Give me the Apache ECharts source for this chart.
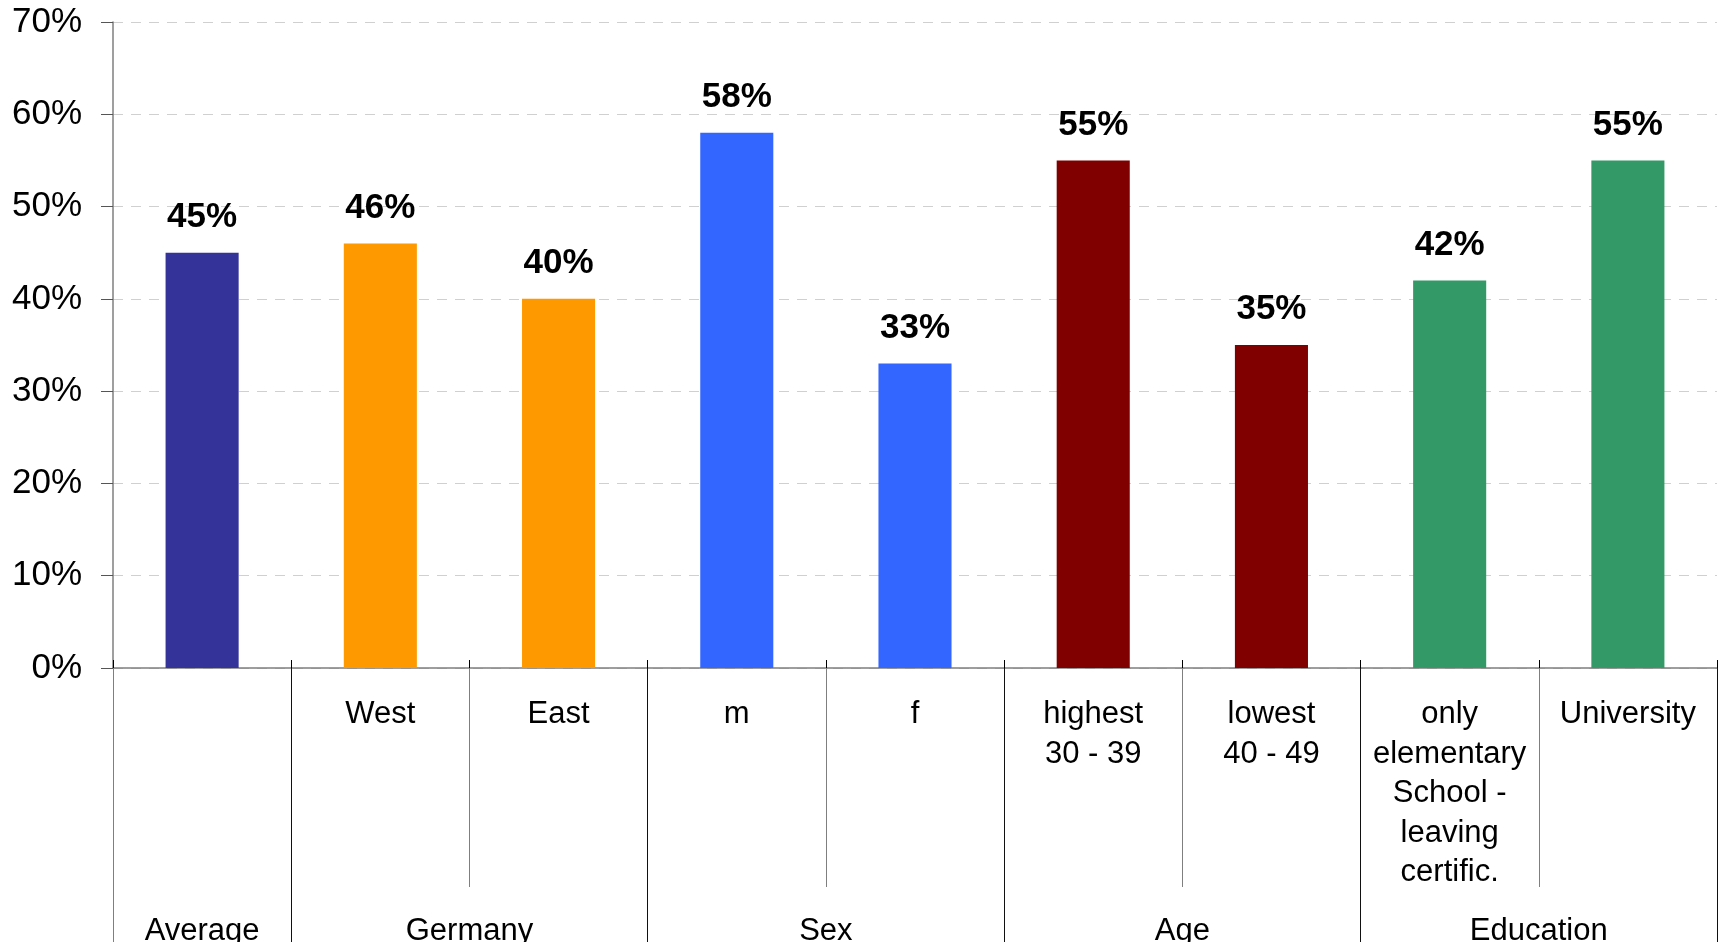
<!DOCTYPE html>
<html>
<head>
<meta charset="utf-8">
<script src="https://cdn.jsdelivr.net/npm/echarts@6/dist/echarts.min.js"></script>
<style>
  html, body { margin: 0; padding: 0; background: #fff; }
  #chart { width: 1720px; height: 942px; }
</style>
</head>
<body>
<div id="chart"></div>
<script>
// Sub-categories (first level of the x axis) and their values in percent
const categories = ['', 'West', 'East', 'm', 'f', 'highest\n30 - 39', 'lowest\n40 - 49',
  'only\nelementary\nSchool -\nleaving\ncertific.', 'University'];
const values = [45, 46, 40, 58, 33, 55, 35, 42, 55];

// Groups (second level of the x axis): name, number of sub-categories, bar colour
const groupNames = ['Average', 'Germany', 'Sex', 'Age', 'Education'];
const groupSizes = [1, 2, 2, 2, 2];
const groupColors = ['#333399', '#FF9900', '#3366FF', '#800000', '#339966'];

// Percent ticks of the value axis
const yTicks = [0, 10, 20, 30, 40, 50, 60, 70];

const FONT = "'Liberation Sans', Arial, Helvetica, sans-serif";

// Group boundaries and centres in category units
const groupStarts = [];
let acc = 0;
groupSizes.forEach(s => { groupStarts.push(acc); acc += s; });
const total = acc;
const groupBounds = groupStarts.slice(1).concat([total]);      // 1,3,5,7,9
const groupCentres = groupStarts.map((s, i) => s + groupSizes[i] / 2);
const innerBounds = [];
groupStarts.forEach((s, i) => {
  for (let k = 1; k < groupSizes[i]; k++) innerBounds.push(s + k);
});

// Bar colour for each sub-category from its group
const barColors = [];
groupSizes.forEach((s, i) => { for (let k = 0; k < s; k++) barColors.push(groupColors[i]); });

const barData = values.map((v, i) => ({ value: v, itemStyle: { color: barColors[i] } }));

const chart = echarts.init(document.getElementById('chart'), null, { renderer: 'canvas' });

const sepAxis = (vals, len, color, extra) => Object.assign({
  type: 'value', gridIndex: 0, position: 'bottom', offset: 0,
  min: 0, max: total,
  axisLine: { show: false },
  splitLine: { show: false },
  axisTick: { show: true, customValues: vals, length: len, lineStyle: { color: color, width: 1 } },
  axisLabel: { show: false }
}, extra || {});

chart.setOption({
  animation: false,
  backgroundColor: '#ffffff',
  grid: { left: 113, right: 3, top: 22, bottom: 274, containLabel: false, outerBoundsMode: 'none' },
  xAxis: [
    {
      type: 'category',
      data: categories,
      position: 'bottom',
      boundaryGap: true,
      axisLine: { show: true, lineStyle: { color: '#7f7f7f', width: 1.5 } },
      axisTick: { show: true, inside: true, length: 8, interval: 0, lineStyle: { color: '#000', width: 1 } },
      axisLabel: {
        show: true, interval: 0, margin: 27,
        fontFamily: FONT, fontSize: 31, color: '#000', lineHeight: 39.5, align: 'center'
      },
      splitLine: { show: false }
    },
    // inner separators between sub-categories of a group
    sepAxis(innerBounds, 219, '#7f7f7f'),
    // separators between groups, with group names
    sepAxis(groupBounds, 290, '#111', {
      axisLabel: {
        show: true, customValues: groupCentres, margin: 244,
        fontFamily: FONT, fontSize: 31, color: '#000', lineHeight: 39,
        formatter: function (val) {
          const idx = groupCentres.findIndex(c => Math.abs(c - val) < 1e-6);
          return idx >= 0 ? groupNames[idx] : '';
        }
      }
    }),
    // extension of the value axis down to the bottom edge
    sepAxis([0], 290, '#7f7f7f')
  ],
  yAxis: {
    type: 'value',
    min: yTicks[0],
    max: yTicks[yTicks.length - 1],
    interval: 10,
    axisLine: { show: true, lineStyle: { color: '#7f7f7f', width: 1.5 } },
    axisTick: { show: true, length: 12, lineStyle: { color: '#555' } },
    axisLabel: {
      margin: 31, fontFamily: FONT, fontSize: 35, color: '#000',
      formatter: '{value}%'
    },
    splitLine: { show: true, lineStyle: { color: '#d0d0d0', type: [10, 8], width: 1.2 } }
  },
  series: [{
    type: 'bar',
    xAxisIndex: 0,
    data: barData,
    barWidth: '41%',
    label: {
      show: true, position: 'top', distance: 18,
      formatter: '{c}%',
      fontFamily: FONT, fontSize: 35, fontWeight: 'bold', color: '#000'
    }
  }]
});
</script>
</body>
</html>
